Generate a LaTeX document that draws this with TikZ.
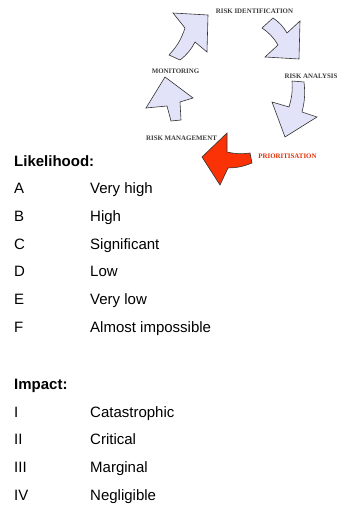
\documentclass[tikz,border=0pt]{standalone}
\usepackage{fontspec}
\setmainfont{Liberation Sans}
\newfontfamily\stepfont{Liberation Serif}
\usepackage{tikz}
\definecolor{lavend}{RGB}{226,226,248}
\definecolor{redarrow}{RGB}{250,50,5}
\definecolor{steptext}{RGB}{60,60,60}

\begin{document}
\begin{tikzpicture}[x=1pt,y=-1pt,
                    blockarrow/.style={draw=black!80,line width=0.6pt,line join=miter,fill=lavend},
                    redblock/.style={blockarrow,fill=redarrow},
                    stepname/.style={inner sep=0pt,font=\stepfont\fontsize{6.9}{7}\selectfont\bfseries,text=steptext},
                    heading/.style={anchor=base west,inner sep=0pt,font=\fontsize{15}{18}\selectfont\bfseries},
                    entry/.style={anchor=base west,inner sep=0pt,font=\fontsize{15}{18}\selectfont}
                ]
    \useasboundingbox (0,0) rectangle (344,511);

    \node[stepname] (ident) at (254.5,11) {RISK IDENTIFICATION};
    \node[stepname] (analysis) at (311,76) {RISK ANALYSIS};
    \node[stepname,text=redarrow!90!black] (prio) at (287.5,156) {PRIORITISATION};
    \node[stepname] (manage) at (181.5,138) {RISK MANAGEMENT};
    \node[stepname] (monitor) at (175.5,71) {MONITORING};

    \draw[blockarrow] (173,13) -- (208,15) -- (207,52) -- (195,42)
        to[bend left=12] (180,60) -- (169,55) to[bend right=12] (185,28) -- cycle;
    \draw[blockarrow] (273,18) to[bend left=12] (287,33) -- (300,21) -- (299,59)
        -- (265,57) -- (278,45) to[bend right=12] (262,28) -- cycle;
    \draw[blockarrow] (292,81) -- (304,82) to[bend left=10] (302,112) -- (317,117)
        -- (285,137) -- (272,102) -- (289,107) to[bend right=10] (292,81);
    \draw[redblock] (227,133) -- (202,157) -- (220,185) -- (228,168)
        to[bend right=10] (252,163) -- (250,153) to[bend left=10] (227,152) -- cycle;
    \draw[blockarrow] (165,77) -- (193,98) -- (180,102) -- (181,120)
        -- (171,121) -- (167,106) -- (146,108) -- cycle;

    \node[heading] (likelihood) at (14,166) {Likelihood:};
    \foreach \l/\d [count=\i] in {A/Very high,B/High,C/Significant,D/Low,E/Very low,F/Almost impossible}
        {
        \node[entry] (lik-\l) at (14,{193.5+27.8*(\i-1)}) {\l};
        \node[entry] (likd-\l) at (90,{193.5+27.8*(\i-1)}) {\d};
    }

    \node[heading] (impact) at (14,389) {Impact:};
    \foreach \l/\d [count=\i] in {I/Catastrophic,II/Critical,III/Marginal,IV/Negligible}
        {
        \node[entry] (imp-\i) at (14,{417+27.7*(\i-1)}) {\l};
        \node[entry] (impd-\i) at (90,{417+27.7*(\i-1)}) {\d};
    }
\end{tikzpicture}
\end{document}
